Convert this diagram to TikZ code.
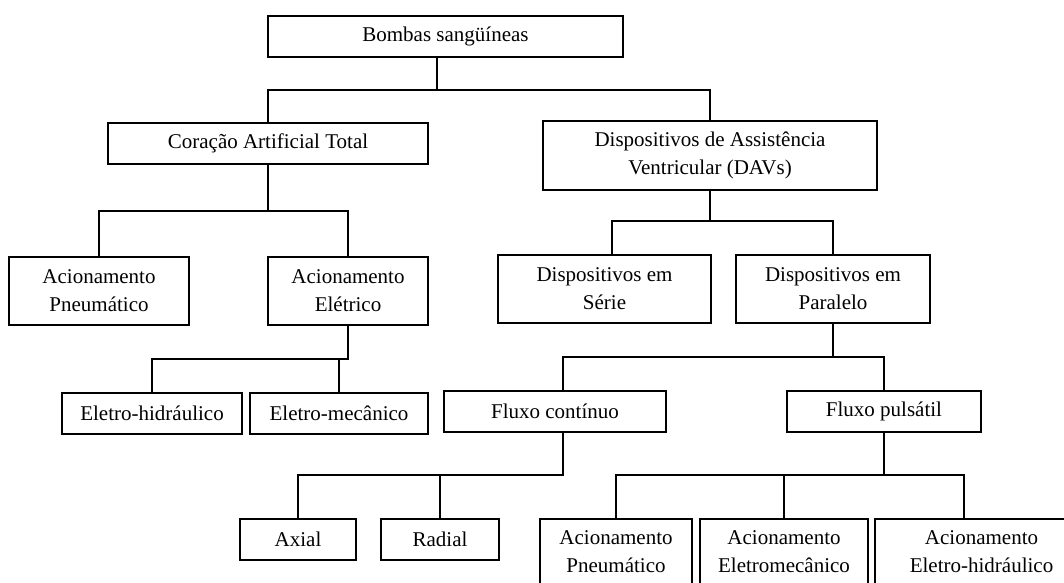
\documentclass[tikz,border=0pt]{standalone}
\usepackage{fontspec}
\setmainfont{Liberation Serif}
\begin{document}
\begin{tikzpicture}[x=1pt,y=-1pt,
  box/.style={draw, line width=2.2pt, inner sep=0pt, align=center,
    font=\fontsize{21}{28}\selectfont},
  link/.style={line width=2.2pt, line cap=rect}]
\useasboundingbox (0,0) rectangle (1064,582);
\clip (0,0) rectangle (1064,582);
% nodes
\node[box, minimum width=355, minimum height=41] (root) at (445.5,36.5) {Bombas sangüíneas};
\node[box, minimum width=320, minimum height=41] (cat) at (268,143.5) {Coração Artificial Total};
\node[box, minimum width=334, minimum height=69] (dav) at (710,155.5) {Dispositivos de Assistência\\Ventricular (DAVs)};
\node[box, minimum width=180, minimum height=68] (pneu) at (99,291) {Acionamento\\Pneumático};
\node[box, minimum width=160, minimum height=68] (elet) at (348,291) {Acionamento\\Elétrico};
\node[box, minimum width=180, minimum height=41] (ehid) at (152,413.5) {Eletro-hidráulico};
\node[box, minimum width=178, minimum height=41] (emec) at (339,413.5) {Eletro-mecânico};
\node[box, minimum width=213, minimum height=68] (serie) at (604.5,289) {Dispositivos em\\Série};
\node[box, minimum width=194, minimum height=68] (paral) at (833,289) {Dispositivos em\\Paralelo};
\node[box, minimum width=222, minimum height=41] (fcont) at (555,411.5) {Fluxo contínuo};
\node[box, minimum width=194, minimum height=41] (fpuls) at (884,411.5) {Fluxo pulsátil};
\node[box, minimum width=116, minimum height=41] (axial) at (298,539.5) {Axial};
\node[box, minimum width=118, minimum height=41] (radial) at (440,539.5) {Radial};
\node[box, minimum width=152, minimum height=66] (ap) at (616,552) {Acionamento\\Pneumático};
\node[box, minimum width=168, minimum height=66] (aem) at (784,552) {Acionamento\\Eletromecânico};
\node[box, minimum width=213, minimum height=66] (aeh) at (981.5,552) {Acionamento\\Eletro-hidráulico};
% bus junctions
\coordinate (b1) at (437,90);
\coordinate (b2) at (268,211);
\coordinate (b3) at (348,359);
\coordinate (b4) at (710,221);
\coordinate (b5) at (833,357);
\coordinate (b6) at (563,475);
\coordinate (b7) at (884,475);
% connectors
\draw[link] (b1 |- root.south) -- (b1);
\draw[link] (cat.north) |- (b1);
\draw[link] (dav.north) |- (b1);
\draw[link] (b2 |- cat.south) -- (b2);
\draw[link] (pneu.north) |- (b2);
\draw[link] (elet.north) |- (b2);
\draw[link] (b3 |- elet.south) -- (b3);
\draw[link] (ehid.north) |- (b3);
\draw[link] (emec.north) |- (b3);
\draw[link] (b4 |- dav.south) -- (b4);
\draw[link] ([xshift=7.5pt]serie.north) |- (b4);
\draw[link] (paral.north) |- (b4);
\draw[link] (b5 |- paral.south) -- (b5);
\draw[link] ([xshift=8pt]fcont.north) |- (b5);
\draw[link] (fpuls.north) |- (b5);
\draw[link] (b6 |- fcont.south) -- (b6);
\draw[link] (axial.north) |- (b6);
\draw[link] (radial.north) |- (b6);
\draw[link] (b7 |- fpuls.south) -- (b7);
\draw[link] (ap.north) |- (b7);
\draw[link] (aem.north) |- (b7);
\draw[link] ([xshift=-17.5pt]aeh.north) |- (b7);
\end{tikzpicture}
\end{document}
